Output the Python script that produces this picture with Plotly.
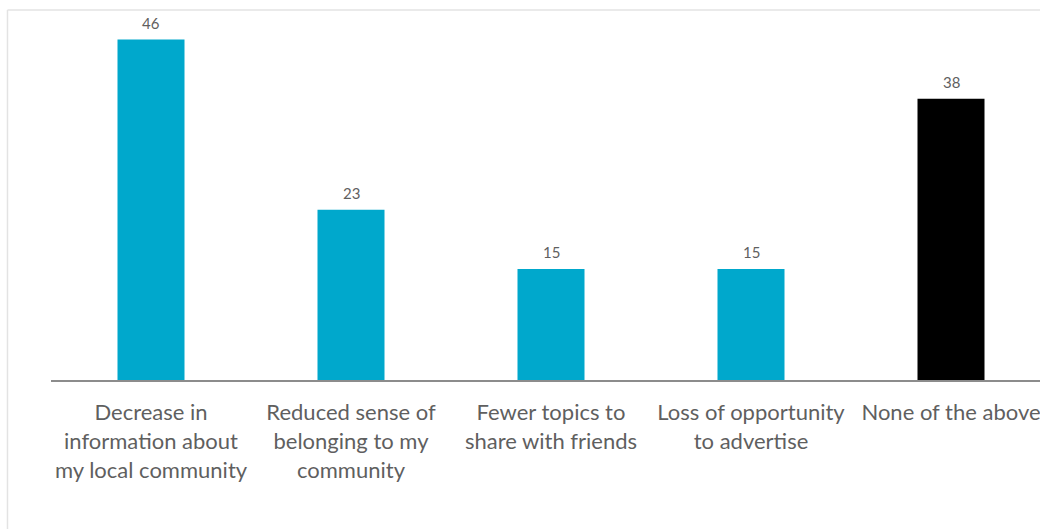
import plotly.graph_objects as go

# Survey responses: perceived losses if local news went away (%)
categories = [
    "Decrease in<br>information about<br>my local community",
    "Reduced sense of<br>belonging to my<br>community",
    "Fewer topics to<br>share with friends",
    "Loss of opportunity<br>to advertise",
    "None of the above",
]
values = [46, 23, 15, 15, 38]
bar_colors = ["#00A8CC", "#00A8CC", "#00A8CC", "#00A8CC", "#000000"]

label_gray = "#5F5F5F"
font_family = "Lato, 'Open Sans', sans-serif"

x_pos = list(range(len(categories)))

fig = go.Figure(
    go.Bar(
        x=x_pos,
        y=values,
        width=0.335,
        marker=dict(color=bar_colors, line=dict(width=0)),
        hoverinfo="skip",
    )
)

# value labels above each bar
for xi, v in zip(x_pos, values):
    fig.add_annotation(
        x=xi, y=v, text=str(v), showarrow=False,
        yanchor="bottom", yshift=6,
        font=dict(family=font_family, size=15, color=label_gray),
    )

# light frame around the chart area
fig.add_shape(
    type="line", xref="paper", yref="paper",
    x0=-0.044, x1=1.0, y0=1.0, y1=1.0,
    line=dict(color="#E3E3E3", width=1.5),
)
fig.add_shape(
    type="line", xref="paper", yref="paper",
    x0=-0.044, x1=-0.044, y0=1.0, y1=-0.45,
    line=dict(color="#E3E3E3", width=1.5),
)

fig.update_layout(
    width=1040, height=529,
    margin=dict(l=51, r=0, t=10, b=149),
    paper_bgcolor="white", plot_bgcolor="white",
    showlegend=False,
    xaxis=dict(
        range=[-0.5, 4.445],
        tickmode="array", tickvals=x_pos, ticktext=categories,
        showline=True, linecolor="#8C8C8C", linewidth=2,
        showgrid=False, zeroline=False, ticks="",
        ticklabelstandoff=12,
        ticklabeloverflow="allow",
        tickfont=dict(family=font_family, size=22, color=label_gray),
        fixedrange=True,
    ),
    yaxis=dict(
        range=[0, 50], visible=False, showgrid=False, zeroline=False,
        fixedrange=True,
    ),
)

fig.write_html("out.html")
